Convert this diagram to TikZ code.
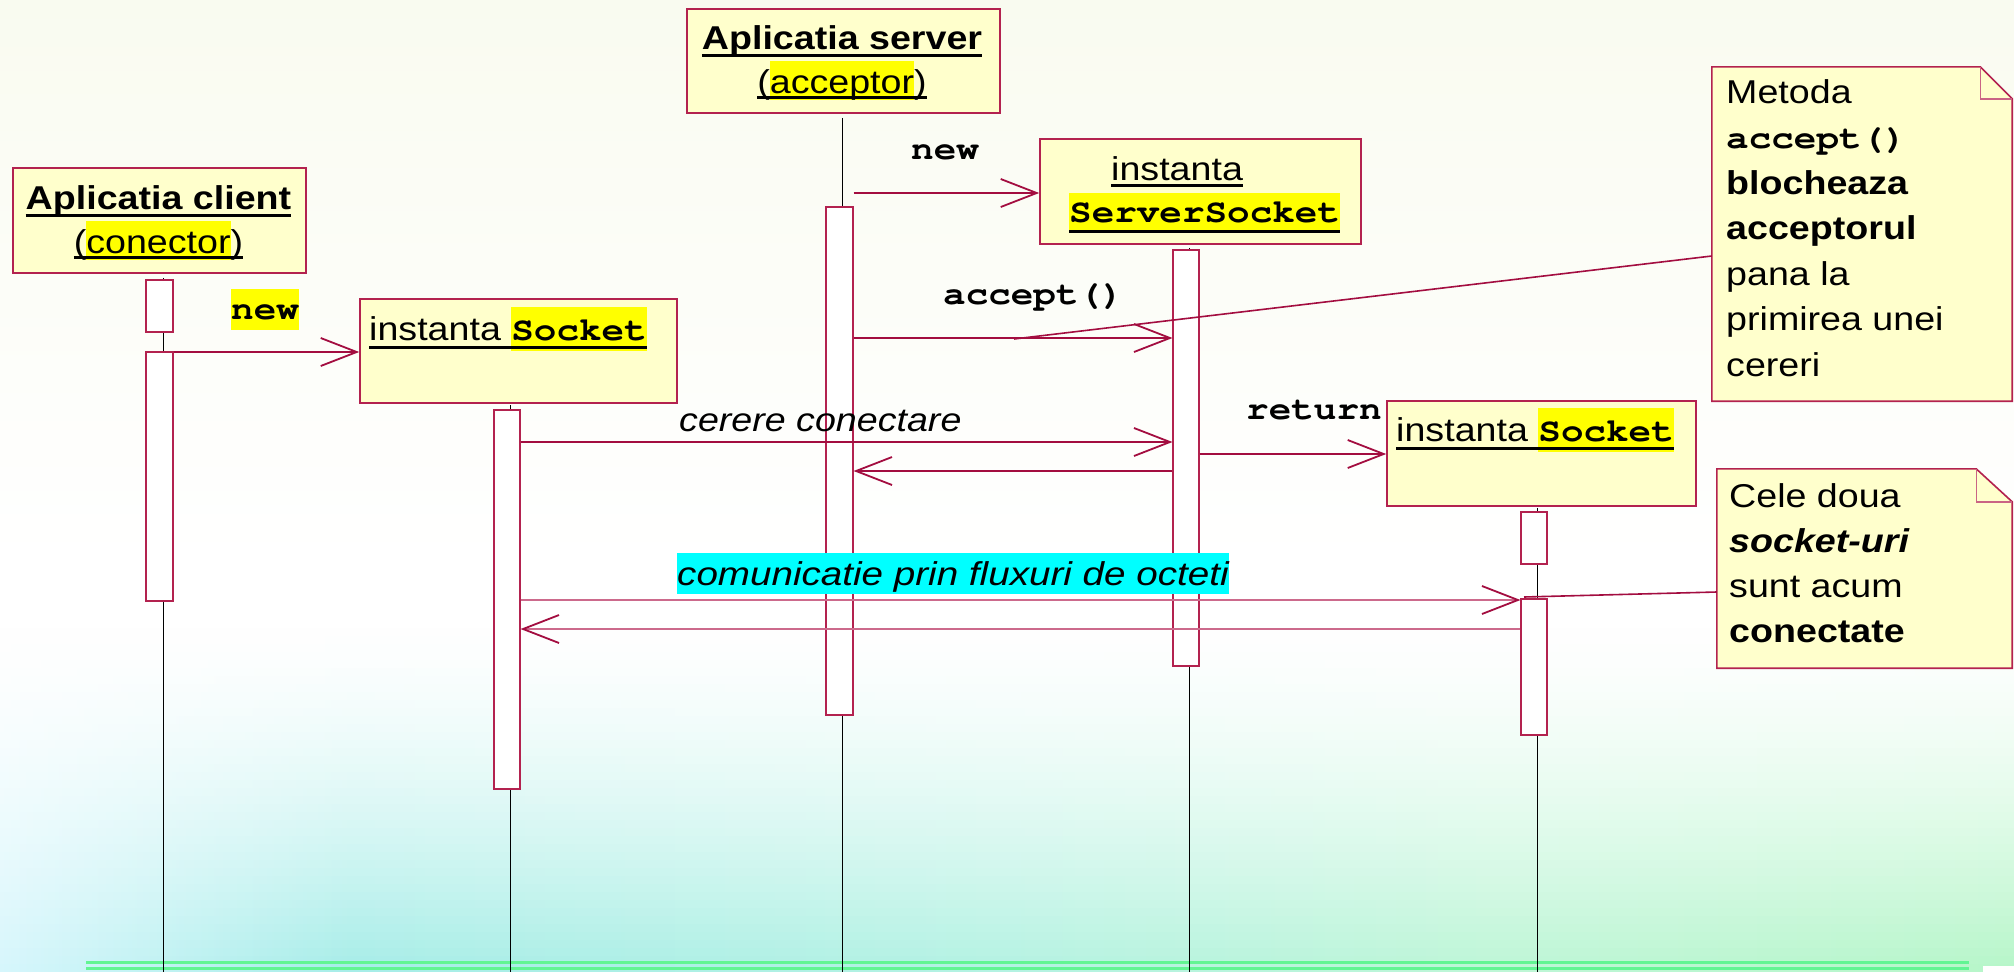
\documentclass[tikz,border=0pt]{standalone}
\usepackage{fontspec}
\setmainfont{Liberation Sans}[FakeStretch=1.14]
\setmonofont{texgyrecursor}[Extension=.otf, UprightFont=*-regular, BoldFont=*-bold, ItalicFont=*-italic, BoldItalicFont=*-bolditalic, FakeStretch=1.14]
\newfontfamily\widesans{Liberation Sans}[FakeStretch=1.17]
\usetikzlibrary{arrows.meta}

\definecolor{boxfill}{HTML}{FFFFCC}
\definecolor{boxline}{HTML}{B3224F}
\definecolor{msgc}{HTML}{A30D40}
\definecolor{commc}{HTML}{CC6A8C}
\definecolor{hlyellow}{HTML}{FFFF00}
\definecolor{hlcyan}{HTML}{00FFFF}
\definecolor{rulegreen}{HTML}{62F593}
\definecolor{topcream}{HTML}{F9FBF0}
\definecolor{bga}{HTML}{D6F6FC}
\definecolor{bgb}{HTML}{A6EDE8}
\definecolor{bgc}{HTML}{B3F2E2}
\definecolor{bgd}{HTML}{BDF6D6}
\definecolor{bge}{HTML}{B6F6C9}

% highlighted text: colour, height, depth, text
\newcommand\hlbox[4]{{\setlength\fboxsep{0pt}\colorbox{#1}{\vrule width 0pt height #2pt depth #3pt\relax #4}}}
% underlined text, rule drawn on top of any highlight
\newcommand\ulin[2][7.5]{{\setbox0\hbox{#2}\copy0\kern-\wd0\rule[-#1pt]{\wd0}{3pt}}}
\newcommand\fs{\fontsize{33}{40}\selectfont}
\newcommand\code[1]{{\ttfamily\bfseries #1}}

\tikzset{
  lbl/.style={inner sep=0pt, anchor=base west, font=\fs},
  ctr/.style={inner sep=0pt, anchor=base, font=\fs},
  objbox/.style={draw=boxline, fill=boxfill, line width=1.6pt, inner sep=0pt},
  notebox/.style={inner sep=0pt},
  noteshape/.style={draw=boxline, fill=boxfill, line width=1.6pt},
  foldline/.style={draw=boxline!70, line width=1.4pt},
  actbox/.style={draw=boxline, fill=white, line width=1.1pt, inner sep=0pt, minimum width=27pt},
  lifeline/.style={draw=black, line width=1pt},
  msg/.style={draw=msgc, line width=1.8pt, -{Straight Barb[length=36pt, width=28pt, color=msgc]}},
  comm/.style={msg, draw=commc},
  noteline/.style={draw=msgc, line width=1.6pt},
}

\begin{document}
\begin{tikzpicture}[x=1pt, y=-1pt]
% background: cream top, white middle, cyan to mint at the bottom
\useasboundingbox (0,0) rectangle (2014,972);
\fill[white] (0,0) rectangle (2014,972);
\fill[top color=topcream, bottom color=white] (0,0) rectangle (2014,560);
\fill[left color=bga, right color=bgb] (0,620) rectangle (350,972);
\fill[left color=bgb, right color=bgc] (349.5,620) rectangle (1000,972);
\fill[left color=bgc, right color=bgd] (999.5,620) rectangle (1500,972);
\fill[left color=bgd, right color=bge] (1499.5,620) rectangle (2014,972);
\foreach \k in {0,...,43}{
  \pgfmathsetmacro\op{1-((\k+0.5)/44)^1.5}
  \fill[white, fill opacity=\op] (0,620+8*\k) rectangle (2014,628+8*\k);
}
\draw[rulegreen, line width=3pt] (86,962.5) -- (1969,962.5);
\draw[rulegreen, line width=3pt] (86,968) -- (1969,968);
\fill[white] (1983,966) rectangle (2014,972);

% objects
\node[objbox, minimum width=293pt, minimum height=105pt] (client) at (159.5,220.5) {};
\node[objbox, minimum width=313pt, minimum height=104pt] (server) at (843.5,61) {};
\node[objbox, minimum width=321pt, minimum height=105pt] (ssock) at (1200.5,191.5) {};
\node[objbox, minimum width=317pt, minimum height=104pt] (sock1) at (518.5,351) {};
\node[objbox, minimum width=309pt, minimum height=105pt] (sock2) at (1541.5,453.5) {};

% lifelines
\coordinate (clientL) at (163,972);
\coordinate (sock1L) at (510.5,972);
\coordinate (serverL) at (842,972);
\coordinate (ssockL) at (1189.5,972);
\coordinate (sock2L) at (1537.5,972);
\draw[lifeline] ([yshift=-4pt]clientL |- client.south) -- (clientL);
\draw[lifeline] ([yshift=-1pt]sock1L |- sock1.south) -- (sock1L);
\draw[lifeline] ([yshift=-4pt]serverL |- server.south) -- (serverL);
\draw[lifeline] ([yshift=-3pt]ssockL |- ssock.south) -- (ssockL);
\draw[lifeline] ([yshift=-1pt]sock2L |- sock2.south) -- (sock2L);

% activations
\node[actbox, minimum height=52pt] (ca1) at (159.5,306) {};
\node[actbox, minimum height=249pt] (ca2) at (159.5,476.5) {};
\node[actbox, minimum height=508pt] (sa) at (839.5,461) {};
\node[actbox, minimum width=26pt, minimum height=379pt] (k1a) at (507,599.5) {};
\node[actbox, minimum width=26pt, minimum height=416pt] (ssa) at (1186,458) {};
\node[actbox, minimum width=26pt, minimum height=52pt] (k2a1) at (1534,538) {};
\node[actbox, minimum width=26pt, minimum height=136pt] (k2a2) at (1534,667) {};

% object titles
\node[ctr] (tcl1) at (158.5,209) {\bfseries\ulin{Aplicatia client}};
\node[ctr] (tcl2) at (158.5,253) {\ulin[6]{(\hlbox{hlyellow}{32}{7}{conector})}};
\node[ctr] (tsv1) at (842,49) {\bfseries\ulin{Aplicatia server}};
\node[ctr] (tsv2) at (842,93) {\ulin[6]{(\hlbox{hlyellow}{32}{7}{acceptor})}};
\node[lbl] (tss1) at (1111,180) {\ulin[6.5]{instanta}};
\node[lbl] (tss2) at (1069,222) {\ulin[10.5]{\hlbox{hlyellow}{29}{8}{\code{ServerSocket}}}};
\node[lbl] (tk1) at (369,340) {\ulin[9]{instanta \hlbox{hlyellow}{33}{11}{\code{Socket}}}};
\node[lbl] (tk2) at (1396,441) {\ulin[9]{instanta \hlbox{hlyellow}{33}{11}{\code{Socket}}}};

% messages
\coordinate (y1) at (0,352);
\coordinate (y2) at (0,193);
\coordinate (y3) at (0,338);
\coordinate (y4) at (0,442);
\coordinate (y5) at (0,471);
\coordinate (y6) at (0,454);
\coordinate (y7) at (0,600);
\coordinate (y8) at (0,629);
\draw[msg] (ca2.east |- y1) -- (sock1.west |- y1);
\draw[msg] (sa.east |- y2) -- (ssock.west |- y2);
\draw[msg] (sa.east |- y3) -- (ssa.west |- y3);
\draw[msg] (k1a.east |- y4) -- (ssa.west |- y4);
\draw[msg] (ssa.west |- y5) -- (sa.east |- y5);
\draw[msg] (ssa.east |- y6) -- (sock2.west |- y6);
\draw[comm] (k1a.east |- y7) -- (k2a2.west |- y7);
\draw[comm] (k2a2.west |- y8) -- (k1a.east |- y8);

% message labels
\node[lbl] (lnew1) at (231,319) {\hlbox{hlyellow}{30}{11}{\code{new}}};
\node[lbl] (lnew2) at (911,159) {\code{new}};
\node[lbl] (lacc) at (943,304) {\code{accept()}};
\node[lbl] (lcer) at (679,431) {\itshape cerere conectare};
\node[lbl] (lret) at (1246,419) {\code{return}};
\node[lbl] (lcom) at (677,585) {\hlbox{hlcyan}{32}{9}{\widesans\itshape comunicatie prin fluxuri de octeti}};

% notes
\node[notebox, minimum width=300pt, minimum height=334pt] (note1) at (1862,234) {};
\draw[noteshape] (note1.north west) -- ([xshift=-32pt]note1.north east) -- ([yshift=-32pt]note1.north east) -- (note1.south east) -- (note1.south west) -- cycle;
\draw[foldline] ([xshift=-32pt]note1.north east) -- ([xshift=-32pt,yshift=-32pt]note1.north east) -- ([yshift=-32pt]note1.north east);
\node[notebox, minimum width=295pt, minimum height=199pt] (note2) at (1864.5,568.5) {};
\draw[noteshape] (note2.north west) -- ([xshift=-36pt]note2.north east) -- ([yshift=-33pt]note2.north east) -- (note2.south east) -- (note2.south west) -- cycle;
\draw[foldline] ([xshift=-36pt]note2.north east) -- ([xshift=-36pt,yshift=-33pt]note2.north east) -- ([yshift=-33pt]note2.north east);

\foreach \t [count=\i from 0] in {Metoda, \code{accept()}, \bfseries blocheaza, \bfseries acceptorul, pana la, primirea unei, cereri}
  \node[lbl] (na\i) at (1726,103+45.5*\i) {\t};
\foreach \t [count=\i from 0] in {Cele doua, \bfseries\itshape socket-uri, sunt acum, \bfseries conectate}
  \node[lbl] (nb\i) at (1729,507+45.3*\i) {\t};

% note anchors
\coordinate (n1end) at (1014,339);
\coordinate (n2end) at (1524,597);
\draw[noteline] (note1.west |- 0,256) -- (n1end);
\draw[noteline] (note2.west |- 0,592) -- (n2end);
\end{tikzpicture}
\end{document}
